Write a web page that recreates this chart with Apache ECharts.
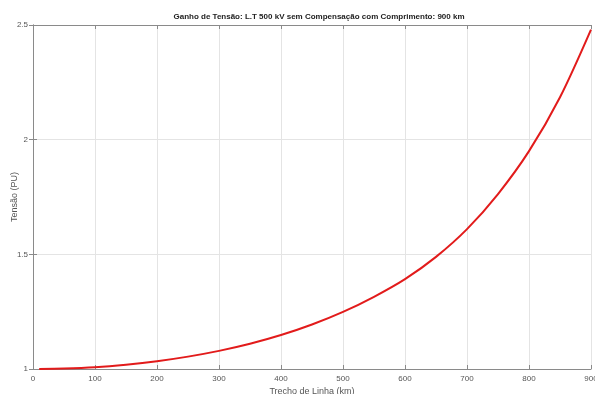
<!DOCTYPE html>
<html>
<head>
<meta charset="utf-8">
<script src="https://cdn.jsdelivr.net/npm/echarts@6/dist/echarts.min.js"></script>
<style>html,body{margin:0;padding:0;background:#fff}#c{width:595px;height:394px}</style>
</head>
<body>
<div id="c"></div>
<script>
const titleText = 'Ganho de Tensão: L.T 500 kV sem Compensação com Comprimento: 900 km';
const xLabel = 'Trecho de Linha (km)';
const yLabel = 'Tensão (PU)';
const distanceKm = [10, 50, 100, 150, 200, 250, 300, 350, 400, 450, 500, 550, 600, 650, 700, 750, 800, 850, 900];
const voltagePU = [1.000, 1.002, 1.008, 1.019, 1.034, 1.054, 1.079, 1.110, 1.148, 1.194, 1.249, 1.315, 1.392, 1.489, 1.610, 1.763, 1.950, 2.185, 2.480];
const xTicks = [0, 100, 200, 300, 400, 500, 600, 700, 800, 900];
const yTicks = [1, 1.5, 2, 2.5];

const chart = echarts.init(document.getElementById('c'), null, {renderer: 'canvas'});
const axisCol = '#8a8a8a';
const labelCol = '#555';
const gridCol = '#e4e4e4';
const data = distanceKm.map((x, i) => [x, voltagePU[i]]);
chart.setOption({
  animation: false,
  backgroundColor: '#fff',
  title: {
    text: titleText, left: 314, top: 8, textAlign: 'center',
    textStyle: {fontFamily: 'Liberation Sans, Arial', fontSize: 8, fontWeight: 'bold', color: '#222'}
  },
  grid: {left: 33, right: 4, top: 25, bottom: 25, containLabel: false, outerBoundsMode: 'none'},
  xAxis: [{
    type: 'value', min: 0, max: 900, interval: 100,
    name: xLabel, nameLocation: 'middle', nameGap: 18, nameMoveOverlap: false,
    nameTextStyle: {fontFamily: 'Liberation Sans, Arial', fontSize: 9, color: labelCol},
    axisLine: {show: true, lineStyle: {color: axisCol, width: 1}},
    axisTick: {show: true, inside: true, length: 4, lineStyle: {color: axisCol}},
    axisLabel: {fontFamily: 'Liberation Sans, Arial', fontSize: 8, color: labelCol, margin: 6,
      formatter: v => xTicks.includes(v) ? String(v) : ''},
    splitLine: {show: true, lineStyle: {color: gridCol, width: 1}}
  }, {
    type: 'value', min: 0, max: 900, interval: 100, position: 'top',
    axisLine: {show: true, lineStyle: {color: axisCol, width: 1}},
    axisTick: {show: true, inside: true, length: 4, lineStyle: {color: axisCol}},
    axisLabel: {show: false}, splitLine: {show: false}
  }],
  yAxis: [{
    type: 'value', min: 1, max: 2.5, interval: 0.5,
    name: yLabel, nameLocation: 'middle', nameGap: 14, nameRotate: 90, nameMoveOverlap: false,
    nameTextStyle: {fontFamily: 'Liberation Sans, Arial', fontSize: 9, color: labelCol},
    axisLine: {show: true, lineStyle: {color: axisCol, width: 1}},
    axisTick: {show: true, inside: true, length: 4, lineStyle: {color: axisCol}},
    axisLabel: {fontFamily: 'Liberation Sans, Arial', fontSize: 8, color: labelCol, margin: 5,
      formatter: v => yTicks.some(t => Math.abs(t - v) < 1e-9) ? String(v) : ''},
    splitLine: {show: true, lineStyle: {color: gridCol, width: 1}}
  }, {
    type: 'value', min: 1, max: 2.5, interval: 0.5, position: 'right',
    axisLine: {show: true, lineStyle: {color: axisCol, width: 1}},
    axisTick: {show: true, inside: true, length: 4, lineStyle: {color: axisCol}},
    axisLabel: {show: false}, splitLine: {show: false}
  }],
  series: [{
    type: 'line', data: data, smooth: 0.3, showSymbol: false,
    lineStyle: {color: '#e21b1b', width: 2}, clip: true
  }]
});
</script>
</body>
</html>
